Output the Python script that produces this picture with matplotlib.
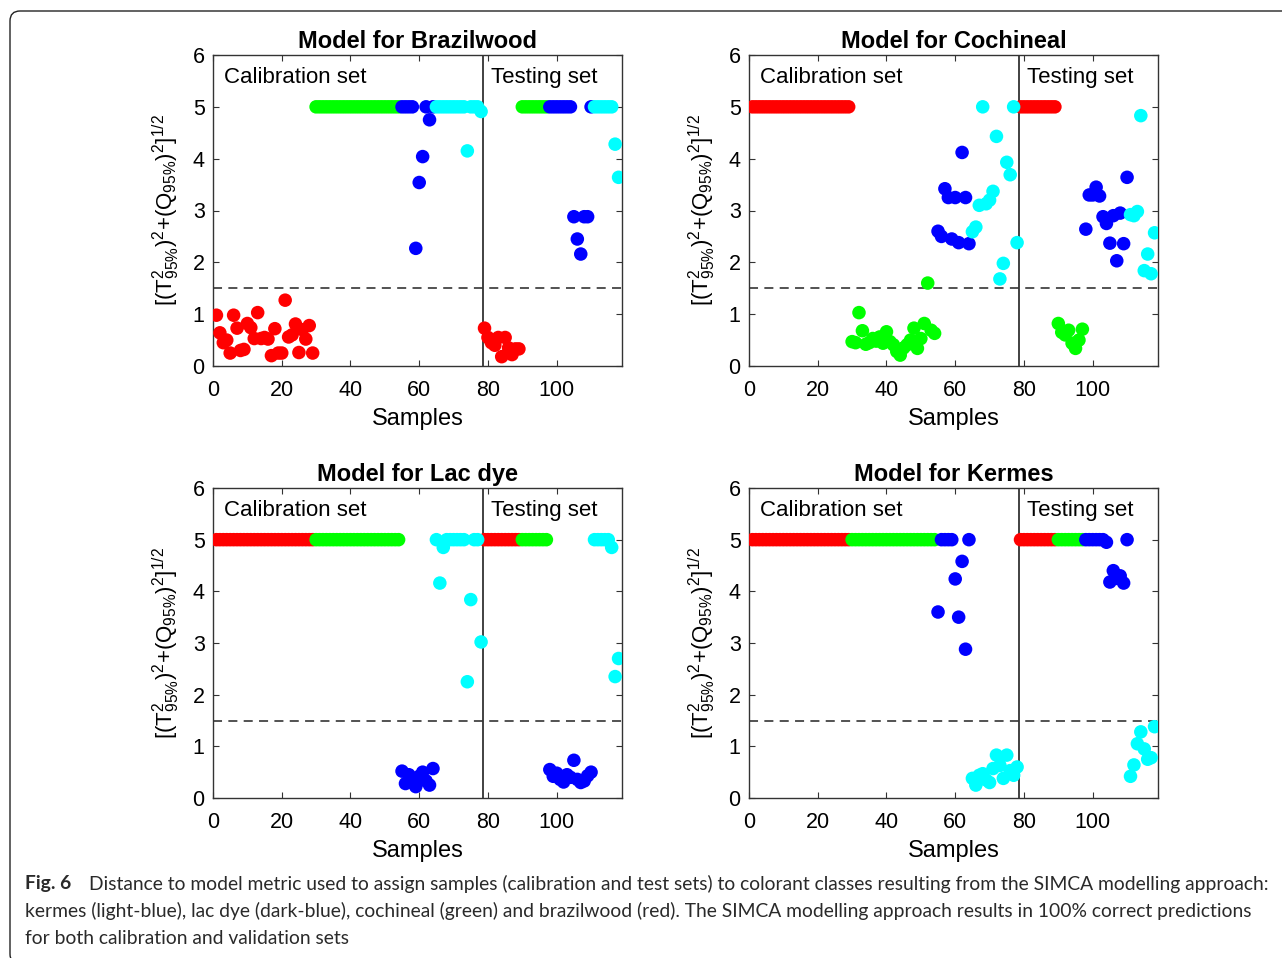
import matplotlib
matplotlib.use('Agg')
import matplotlib.pyplot as plt
from matplotlib.patches import FancyBboxPatch

plt.rcParams['font.family'] = 'Liberation Sans'
plt.rcParams['mathtext.fontset'] = 'custom'
plt.rcParams['mathtext.rm'] = 'Liberation Sans'
plt.rcParams['mathtext.it'] = 'Liberation Sans:italic'
plt.rcParams['mathtext.bf'] = 'Liberation Sans:bold'

# ---------------------------------------------------------
# sample numbers per colorant class (calibration 1-78, test 79-118)
# ---------------------------------------------------------
idx_red = list(range(1, 30)) + list(range(79, 90))      # brazilwood
idx_green = list(range(30, 55)) + list(range(90, 98))   # cochineal
idx_blue = list(range(55, 65)) + list(range(98, 111))   # lac dye
idx_cyan = list(range(65, 79)) + list(range(111, 119))  # kermes

# ---------------------------------------------------------
# distance values (capped at 5)
# ---------------------------------------------------------
# Model for Brazilwood
bw_red = [0.98, 0.64, 0.45, 0.5, 0.25, 0.98, 0.73, 0.3, 0.32, 0.82,
          0.74, 0.53, 1.03, 0.53, 0.55, 0.52, 0.2, 0.72, 0.25, 0.25,
          1.27, 0.56, 0.6, 0.81, 0.26, 0.7, 0.52, 0.78, 0.25,
          0.73, 0.55, 0.45, 0.4, 0.55, 0.18, 0.55, 0.35, 0.22, 0.33, 0.33]
bw_green = [5, 5, 5, 5, 5, 5, 5, 5, 5, 5, 5, 5, 5, 5, 5, 5, 5, 5, 5, 5,
            5, 5, 5, 5, 5,
            5, 5, 5, 5, 5, 5, 5, 5]
bw_blue = [5, 5, 5, 5, 2.27, 3.54, 4.04, 5, 4.75, 5,
           5, 5, 5, 5, 5, 5, 5, 2.88, 2.45, 2.16, 2.88, 2.88, 5]
bw_cyan = [5, 5, 5, 5, 5, 5, 5, 5, 5, 4.15, 5, 5, 5, 4.91,
           5, 5, 5, 5, 5, 5, 4.28, 3.64]

# Model for Cochineal
co_red = [5, 5, 5, 5, 5, 5, 5, 5, 5, 5, 5, 5, 5, 5, 5, 5, 5, 5, 5, 5,
          5, 5, 5, 5, 5, 5, 5, 5, 5,
          5, 5, 5, 5, 5, 5, 5, 5, 5, 5, 5]
co_green = [0.47, 0.45, 1.03, 0.68, 0.42, 0.45, 0.53, 0.48, 0.56, 0.44,
            0.66, 0.47, 0.41, 0.28, 0.21, 0.35, 0.41, 0.5, 0.73, 0.34,
            0.53, 0.82, 1.6, 0.69, 0.63,
            0.82, 0.65, 0.6, 0.69, 0.44, 0.34, 0.5, 0.71]
co_blue = [2.6, 2.5, 3.42, 3.25, 2.45, 3.25, 2.38, 4.12, 3.25, 2.36,
           2.64, 3.3, 3.3, 3.45, 3.28, 2.88, 2.75, 2.37, 2.9, 2.03, 2.95, 2.36, 3.64]
co_cyan = [2.59, 2.68, 3.1, 5.0, 3.13, 3.2, 3.37, 4.43, 1.68, 1.98, 3.93, 3.69, 5.0, 2.38,
           2.92, 2.9, 2.98, 4.83, 1.84, 2.16, 1.78, 2.57]

# Model for Lac dye
ld_red = [5, 5, 5, 5, 5, 5, 5, 5, 5, 5, 5, 5, 5, 5, 5, 5, 5, 5, 5, 5,
          5, 5, 5, 5, 5, 5, 5, 5, 5,
          5, 5, 5, 5, 5, 5, 5, 5, 5, 5, 5]
ld_green = [5, 5, 5, 5, 5, 5, 5, 5, 5, 5, 5, 5, 5, 5, 5, 5, 5, 5, 5, 5,
            5, 5, 5, 5, 5,
            5, 5, 5, 5, 5, 5, 5, 5]
ld_blue = [0.52, 0.28, 0.45, 0.3, 0.22, 0.42, 0.5, 0.33, 0.25, 0.57,
           0.55, 0.42, 0.48, 0.36, 0.31, 0.45, 0.4, 0.73, 0.36, 0.3, 0.33, 0.43, 0.5]
ld_cyan = [5, 4.16, 4.85, 5, 5, 5, 5, 5, 5, 2.25, 3.84, 5, 5, 3.02,
           5, 5, 5, 5, 5, 4.85, 2.35, 2.7]

# Model for Kermes
ke_red = [5, 5, 5, 5, 5, 5, 5, 5, 5, 5, 5, 5, 5, 5, 5, 5, 5, 5, 5, 5,
          5, 5, 5, 5, 5, 5, 5, 5, 5,
          5, 5, 5, 5, 5, 5, 5, 5, 5, 5, 5]
ke_green = [5, 5, 5, 5, 5, 5, 5, 5, 5, 5, 5, 5, 5, 5, 5, 5, 5, 5, 5, 5,
            5, 5, 5, 5, 5,
            5, 5, 5, 5, 5, 5, 5, 5]
ke_blue = [3.6, 5, 5, 5, 5, 4.24, 3.5, 4.58, 2.88, 5,
           5, 5, 5, 5, 5, 5, 4.95, 4.18, 4.4, 4.25, 4.3, 4.16, 5]
ke_cyan = [0.38, 0.25, 0.44, 0.47, 0.35, 0.3, 0.57, 0.83, 0.63, 0.38, 0.83, 0.53, 0.44, 0.6,
           0.42, 0.64, 1.05, 1.28, 0.95, 0.75, 0.78, 1.38]

titles = ['Model for Brazilwood', 'Model for Cochineal', 'Model for Lac dye', 'Model for Kermes']
models = [(bw_red, bw_green, bw_blue, bw_cyan),
          (co_red, co_green, co_blue, co_cyan),
          (ld_red, ld_green, ld_blue, ld_cyan),
          (ke_red, ke_green, ke_blue, ke_cyan)]

threshold = 1.5
split = 78.5
class_colors = ['#ff0000', '#00ff00', '#0000ff', '#00ffff']
class_idx = [idx_red, idx_green, idx_blue, idx_cyan]

W, H = 1282, 958
fig = plt.figure(figsize=(W / 100, H / 100), dpi=100)

# axes boxes in pixels: left, top, right, bottom
boxes = [(213, 55, 622, 366), (749, 55, 1158, 366),
         (213, 488, 622, 798), (749, 488, 1158, 798)]

ylab = r'$[(\mathrm{T}^2_{95\%})^2{+}(\mathrm{Q}_{95\%})^2]^{1/2}$'
axcol = '#333333'

for box, title, vals in zip(boxes, titles, models):
    l, t, r, b = box
    ax = fig.add_axes([l / W, 1 - b / H, (r - l) / W, (b - t) / H])
    for idx, v, c in zip(class_idx, vals, class_colors):
        ax.scatter(idx, v, s=95, c=c, edgecolors='none', zorder=3)
    ax.axhline(threshold, color='#444444', ls=(0, (5, 3.5)), lw=1.3, zorder=2)
    ax.axvline(split, color='#333333', lw=1.3, zorder=2)
    ax.set_xlim(0, 119)
    ax.set_ylim(0, 6)
    ax.set_xticks([0, 20, 40, 60, 80, 100])
    ax.set_yticks([0, 1, 2, 3, 4, 5, 6])
    ax.tick_params(direction='in', top=True, right=True, length=4, width=0.8,
                   labelsize=15.5, colors=axcol, labelcolor='black')
    ax.tick_params(axis='x', pad=10)
    ax.tick_params(axis='y', pad=6)
    for sp in ax.spines.values():
        sp.set_color(axcol)
        sp.set_linewidth(1.0)
    ax.set_title(title, fontsize=17, fontweight='bold', pad=5)
    ax.set_xlabel('Samples', fontsize=17, labelpad=5)
    ax.set_ylabel(ylab, fontsize=16)
    ax.yaxis.set_label_coords(-0.075, 0.5)
    ax.text(3.2, 5.57, 'Calibration set', fontsize=16, va='center', ha='left')
    ax.text(80.8, 5.57, 'Testing set', fontsize=16, va='center', ha='left')

# rounded frame around the figure (bottom and right edges fall outside)
frame = FancyBboxPatch((10 / 100, -6 / 100), 13.0, (H - 11 + 6) / 100,
                       boxstyle='round,pad=0,rounding_size=0.1',
                       transform=fig.dpi_scale_trans, fill=False,
                       edgecolor='#222222', lw=1.0)
fig.patches.append(frame)

# caption
cap_font = 'Lato'
cap_size = 13.9
cap_col = '#2a2a2a'
fig.text(25 / W, 1 - 884 / H, 'Fig. 6', fontsize=cap_size, fontweight='bold',
         family=cap_font, va='center', color=cap_col)
fig.text(89 / W, 1 - 884 / H,
         'Distance to model metric used to assign samples (calibration and test sets) to colorant classes resulting from the SIMCA modelling approach:',
         fontsize=cap_size, family=cap_font, va='center', color=cap_col)
fig.text(25 / W, 1 - 911 / H,
         'kermes (light-blue), lac dye (dark-blue), cochineal (green) and brazilwood (red). The SIMCA modelling approach results in 100% correct predictions',
         fontsize=cap_size, family=cap_font, va='center', color=cap_col)
fig.text(25 / W, 1 - 938 / H, 'for both calibration and validation sets',
         fontsize=cap_size, family=cap_font, va='center', color=cap_col)

fig.savefig('out.png', dpi=100)
